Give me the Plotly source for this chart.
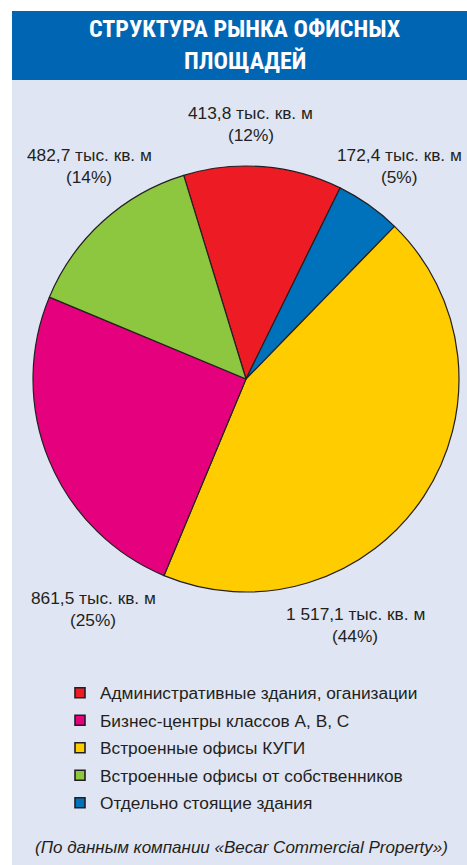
import plotly.graph_objects as go

W, H = 467, 865

# ---- data ----
categories = [
    "Административные здания, оганизации",
    "Отдельно стоящие здания",
    "Встроенные офисы КУГИ",
    "Бизнес-центры классов А, В, С",
    "Встроенные офисы от собственников",
]
values = [413.8, 172.4, 1517.1, 861.5, 482.7]          # тыс. кв. м
percents = [12, 5, 44, 25, 14]
colors = ["#ed1c24", "#0072bc", "#ffcc00", "#e5007d", "#8dc63f"]
legend_order = [0, 3, 2, 4, 1]

title_lines = ["СТРУКТУРА РЫНКА ОФИСНЫХ", "ПЛОЩАДЕЙ"]
source_note = "(По данным компании «Becar Commercial Property»)"

# ---- layout helpers (pixel positions of label blocks) ----
label_pos = [(251, 113), (399, 155), (355, 614), (93, 598), (89, 155)]
LINE_GAP = 22

def px(x):
    return x / W

def py(y):
    return 1 - y / H

def fmt(v):
    s = f"{v:,.1f}".replace(",", " ").replace(".", ",")
    return s

TEXT = "#231f20"
FONT = "Liberation Sans, Arial, sans-serif"

fig = go.Figure()

fig.add_trace(go.Pie(
    labels=categories,
    values=values,
    marker=dict(colors=colors, line=dict(color=TEXT, width=1.2)),
    sort=False,
    direction="clockwise",
    rotation=-17,
    textinfo="none",
    hoverinfo="label+value+percent",
    showlegend=False,
    domain=dict(x=[px(33), px(459)], y=[py(592), py(166)]),
))

# legend entries (one group each to control spacing)
for i in legend_order:
    fig.add_trace(go.Scatter(
        x=[None], y=[None], mode="markers", name=categories[i],
        legendgroup=f"g{i}",
        marker=dict(symbol="square", size=10, color=colors[i],
                    line=dict(color=TEXT, width=1.6)),
        hoverinfo="skip",
    ))

annotations = []
for i, v in enumerate(values):
    x, y = label_pos[i]
    annotations.append(dict(x=px(x), y=py(y), xref="paper", yref="paper",
                            text=f"{fmt(v)} тыс. кв. м", showarrow=False,
                            font=dict(family=FONT, size=17.3, color=TEXT),
                            xanchor="center", yanchor="middle"))
    annotations.append(dict(x=px(x), y=py(y + LINE_GAP), xref="paper", yref="paper",
                            text=f"({percents[i]}%)", showarrow=False,
                            font=dict(family=FONT, size=17.3, color=TEXT),
                            xanchor="center", yanchor="middle"))

TITLE_SIZE = 24
for k, line in enumerate(title_lines):
    annotations.append(dict(x=px(245), y=py(29.5 + 31.3 * k), xref="paper", yref="paper",
                            text=line, showarrow=False,
                            font=dict(family="Roboto Condensed, DejaVu Sans Condensed, Liberation Sans Narrow, Liberation Sans, sans-serif",
                                      size=TITLE_SIZE, color="white", weight="bold"),
                            xanchor="center", yanchor="middle"))

annotations.append(dict(x=px(241), y=py(847), xref="paper", yref="paper",
                        text=f"<i>{source_note}</i>", showarrow=False,
                        font=dict(family=FONT, size=17, color=TEXT),
                        xanchor="center", yanchor="middle"))

shapes = [
    dict(type="rect", xref="paper", yref="paper", x0=px(12), x1=1, y0=py(80), y1=py(11),
         fillcolor="#0066b3", line=dict(width=0), layer="below"),
    dict(type="rect", xref="paper", yref="paper", x0=px(12), x1=1, y0=0, y1=py(80),
         fillcolor="#dfe5f3", line=dict(width=0), layer="below"),
]

fig.update_layout(
    width=W, height=H,
    margin=dict(l=0, r=0, t=0, b=0),
    paper_bgcolor="white",
    plot_bgcolor="rgba(0,0,0,0)",
    xaxis=dict(visible=False),
    yaxis=dict(visible=False),
    annotations=annotations,
    shapes=shapes,
    showlegend=True,
    legend=dict(x=px(60), y=py(675), xanchor="left", yanchor="top",
                bgcolor="rgba(0,0,0,0)", traceorder="grouped",
                tracegroupgap=2,
                font=dict(family=FONT, size=17.3, color=TEXT),
                itemclick=False, itemdoubleclick=False),
)

fig.write_html("out.html")
